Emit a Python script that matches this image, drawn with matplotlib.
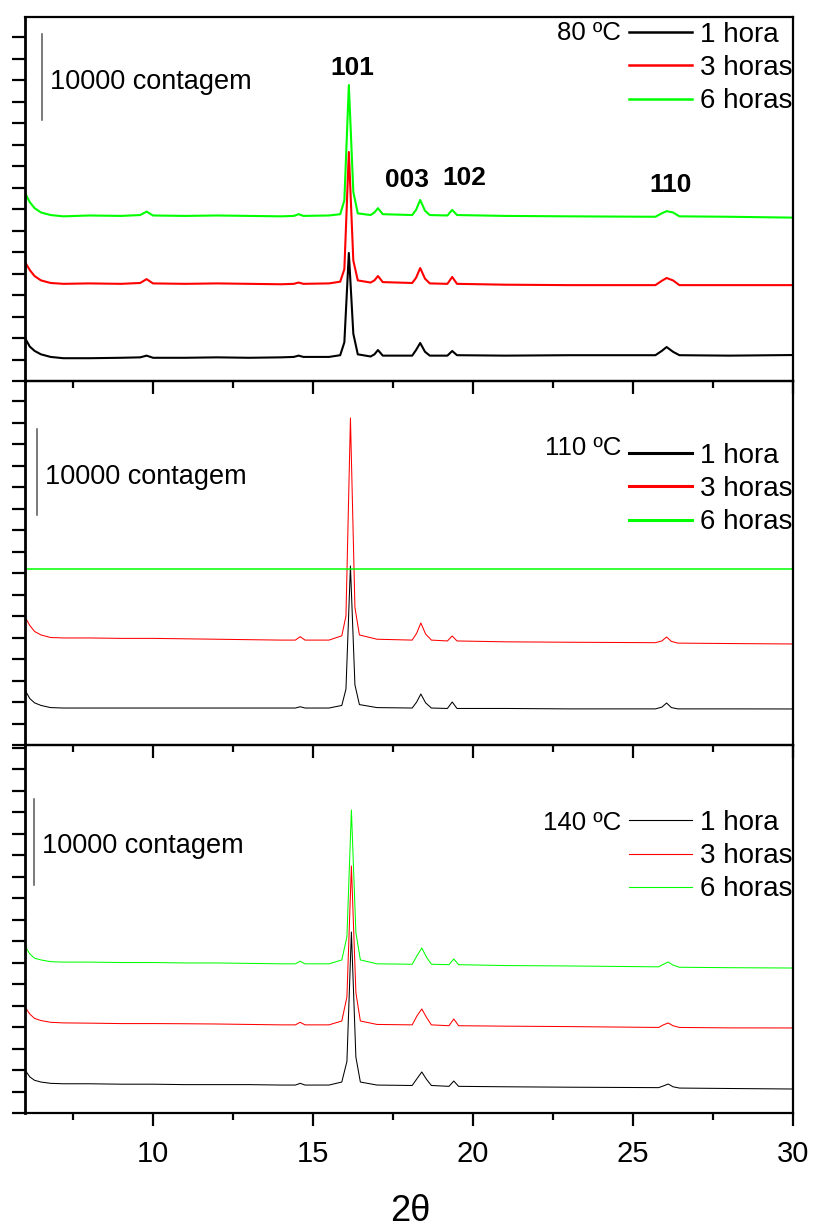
import numpy as np
import matplotlib
matplotlib.use("Agg")
import matplotlib.pyplot as plt
from matplotlib.ticker import MultipleLocator
from matplotlib.lines import Line2D

plt.rcParams['font.family'] = ['Liberation Sans', 'DejaVu Sans']

# ---- data (counts vs 2theta) ----
# 80 ºC panel
x80 = [6.0, 6.15, 6.3, 6.5, 6.8, 7.2, 8.0, 9.0, 9.6, 9.8, 10.0, 11.0, 12.0, 13.0, 14.0,
       14.4, 14.55, 14.7, 15.5, 15.85, 15.98, 16.12, 16.26, 16.4, 16.8, 16.92, 17.03, 17.18,
       18.1, 18.22, 18.35, 18.5, 18.65, 19.2, 19.35, 19.5, 21.0, 23.0, 25.7, 25.9, 26.05,
       26.25, 26.45, 28.0, 30.0]
y80_1h = [5000, 4000, 3500, 3100, 2800, 2650, 2650, 2700, 2750, 2950, 2700, 2700, 2750, 2700, 2750,
          2800, 2950, 2800, 2800, 3000, 4500, 14890, 5500, 3100, 2850, 3100, 3600, 2950,
          2950, 3600, 4420, 3400, 2950, 2950, 3490, 3000, 2950, 3000, 3000, 3500, 3950,
          3400, 3000, 2950, 3020]
y80_3h = [13840, 12900, 12200, 11700, 11400, 11300, 11350, 11300, 11400, 11850, 11350, 11300, 11350, 11300, 11250,
          11300, 11450, 11300, 11350, 11550, 13000, 26630, 14000, 11700, 11450, 11700, 12210, 11500,
          11400, 12000, 13140, 11900, 11350, 11300, 12100, 11300, 11200, 11150, 11150, 11650, 11980,
          11700, 11150, 11150, 11150]
y80_6h = [21860, 20800, 20100, 19600, 19300, 19150, 19250, 19200, 19300, 19700, 19250, 19200, 19250, 19200, 19150,
          19200, 19400, 19200, 19250, 19400, 21000, 34420, 22000, 19500, 19300, 19600, 20100, 19400,
          19300, 19900, 21050, 19800, 19300, 19250, 19900, 19300, 19200, 19150, 19100, 19500, 19750,
          19600, 19150, 19100, 19000]

# 110 ºC panel
x110 = [6.0, 6.15, 6.3, 6.5, 6.8, 7.2, 8.0, 9.0, 10.0, 11.0, 12.0, 13.0, 14.0, 14.45, 14.6,
        14.75, 15.5, 15.9, 16.03, 16.17, 16.31, 16.45, 17.0, 18.1, 18.24, 18.37, 18.52, 18.7,
        19.2, 19.35, 19.5, 21.0, 23.0, 25.7, 25.9, 26.05, 26.2, 26.4, 28.0, 30.0]
y110_1h = [6400, 5400, 4900, 4600, 4350, 4300, 4300, 4300, 4300, 4300, 4300, 4300, 4300, 4300, 4450,
           4300, 4300, 4600, 6500, 20820, 7000, 4700, 4350, 4300, 5000, 5930, 4900, 4300,
           4250, 5000, 4250, 4250, 4200, 4200, 4400, 4880, 4350, 4200, 4200, 4190]
y110_3h = [14890, 13900, 13200, 12800, 12500, 12450, 12450, 12400, 12400, 12350, 12300, 12250, 12200, 12200, 12600,
           12200, 12200, 12700, 15000, 38030, 16000, 12800, 12300, 12200, 13000, 14190, 12900, 12200,
           12100, 12680, 12100, 12000, 11950, 11900, 12100, 12560, 12050, 11850, 11800, 11750]
x110_6h = [6.0, 30.0]
y110_6h = [20420, 20420]

# 140 ºC panel
x140 = [6.0, 6.15, 6.3, 6.5, 6.8, 7.2, 8.0, 9.0, 10.0, 11.0, 12.0, 13.0, 14.0, 14.45, 14.6,
        14.75, 15.5, 15.9, 16.06, 16.2, 16.34, 16.48, 17.0, 18.1, 18.25, 18.4, 18.55, 18.7,
        19.25, 19.4, 19.55, 21.0, 23.0, 25.8, 25.95, 26.1, 26.25, 26.45, 28.0, 30.0]
y140_1h = [5000, 4200, 3800, 3600, 3450, 3400, 3400, 3350, 3350, 3300, 3300, 3300, 3250, 3250, 3450,
           3250, 3250, 3600, 6000, 21050, 6500, 3600, 3250, 3200, 4000, 4770, 3900, 3200,
           3100, 3720, 3100, 3050, 3000, 2950, 3150, 3370, 3050, 2900, 2850, 2790]
y140_3h = [12330, 11500, 11000, 10750, 10550, 10480, 10450, 10400, 10400, 10380, 10350, 10300, 10250, 10250, 10550,
           10250, 10250, 10700, 13500, 28730, 14000, 10700, 10300, 10250, 11300, 12100, 11100, 10250,
           10150, 10930, 10150, 10100, 10050, 9950, 10250, 10470, 10150, 9950, 9900, 9890]
y140_6h = [19420, 18500, 18000, 17800, 17600, 17550, 17550, 17500, 17500, 17450, 17450, 17400, 17350, 17350, 17650,
           17350, 17350, 17800, 20500, 35240, 21000, 17800, 17350, 17300, 18300, 19190, 18100, 17300,
           17250, 17910, 17250, 17150, 17100, 17000, 17300, 17560, 17200, 16950, 16900, 16860]

labels = ['1 hora', '3 horas', '6 horas']
colors = ['black', '#ff0000', '#00ff00']
temps = ['80 ºC', '110 ºC', '140 ºC']
peak_labels = ['101', '003', '102', '110']
peak_pos = [16.22, 17.93, 19.74, 26.16]
peak_y = [36400, 23400, 23600, 22800]

panels = [
    [(x80, y80_1h), (x80, y80_3h), (x80, y80_6h)],
    [(x110, y110_1h), (x110, y110_3h), (x110_6h, y110_6h)],
    [(x140, y140_1h), (x140, y140_3h), (x140, y140_6h)],
]

fig = plt.figure(figsize=(8.15, 12.29), dpi=100)
W, H = 815, 1229
left, right = 25, 793
tops = [17, 381, 745]
bots = [381, 745, 1113]
lws = [1.5, 0.75, 0.75]
leg_lws = [1.8, 2.2, 0.8]
leg_top = [22, 443, 810]
bar_x = [6.53, 6.37, 6.28]
bar_y = [30300, 26750, 26500]
txt_y = [82, 477, 846]
txt_x = [50, 45, 42]
temp_y = [33, 448, 823]

axes = []
for i in range(3):
    ax = fig.add_axes([left / W, 1 - bots[i] / H, (right - left) / W, (bots[i] - tops[i]) / H])
    ax.patch.set_visible(False)
    axes.append(ax)
    ymax = (bots[i] - tops[i]) * 116.3
    for (xs, ys), c, lab in zip(panels[i], colors, labels):
        lw = lws[i] if len(xs) > 2 else 1.1
        ax.plot(xs, ys, color=c, lw=lw, label=lab)
    ax.set_xlim(6, 30)
    ax.set_ylim(0, ymax)

    ax.xaxis.set_major_locator(MultipleLocator(5))
    ax.xaxis.set_minor_locator(MultipleLocator(2.5))
    ax.yaxis.set_major_locator(MultipleLocator(2500))
    ax.tick_params(axis='x', which='major', direction='out', length=9.5, width=1.6,
                   labelsize=21, pad=10)
    ax.tick_params(axis='x', which='minor', direction='out', length=5, width=1.6)
    ax.tick_params(axis='y', which='major', direction='out', length=9.5, width=1.6)
    ax.set_yticklabels([])
    if i < 2:
        ax.set_xticklabels([])
    for s in ax.spines.values():
        s.set_linewidth(1.6)
    ax.spines['left'].set_linewidth(2.0)

    # scale bar
    ax.plot([bar_x[i], bar_x[i]], [bar_y[i], bar_y[i] + 10000], color='#555555', lw=1.1)
    fig.text(txt_x[i] / W, 1 - txt_y[i] / H, '10000 contagem', fontsize=19.5,
             ha='left', va='center')

    handles = [Line2D([], [], color=c, lw=leg_lws[i]) for c in colors]
    ax.legend(handles, labels, loc='upper right', frameon=False, fontsize=20,
              bbox_to_anchor=(792 / W, 1 - leg_top[i] / H),
              bbox_transform=fig.transFigure, borderaxespad=0, borderpad=0,
              handlelength=2.25, handletextpad=0.28, labelspacing=0.26)
    fig.text(621 / W, 1 - temp_y[i] / H, temps[i], fontsize=18.5, ha='right', va='center')

for lab, px, py in zip(peak_labels, peak_pos, peak_y):
    axes[0].text(px, py, lab, fontsize=19, fontweight='bold', ha='center', va='center')

fig.text(410 / W, 1 - 1221 / H, '2θ', fontsize=26, ha='center', va='baseline')

fig.savefig('out.png', dpi=100, facecolor='white')
